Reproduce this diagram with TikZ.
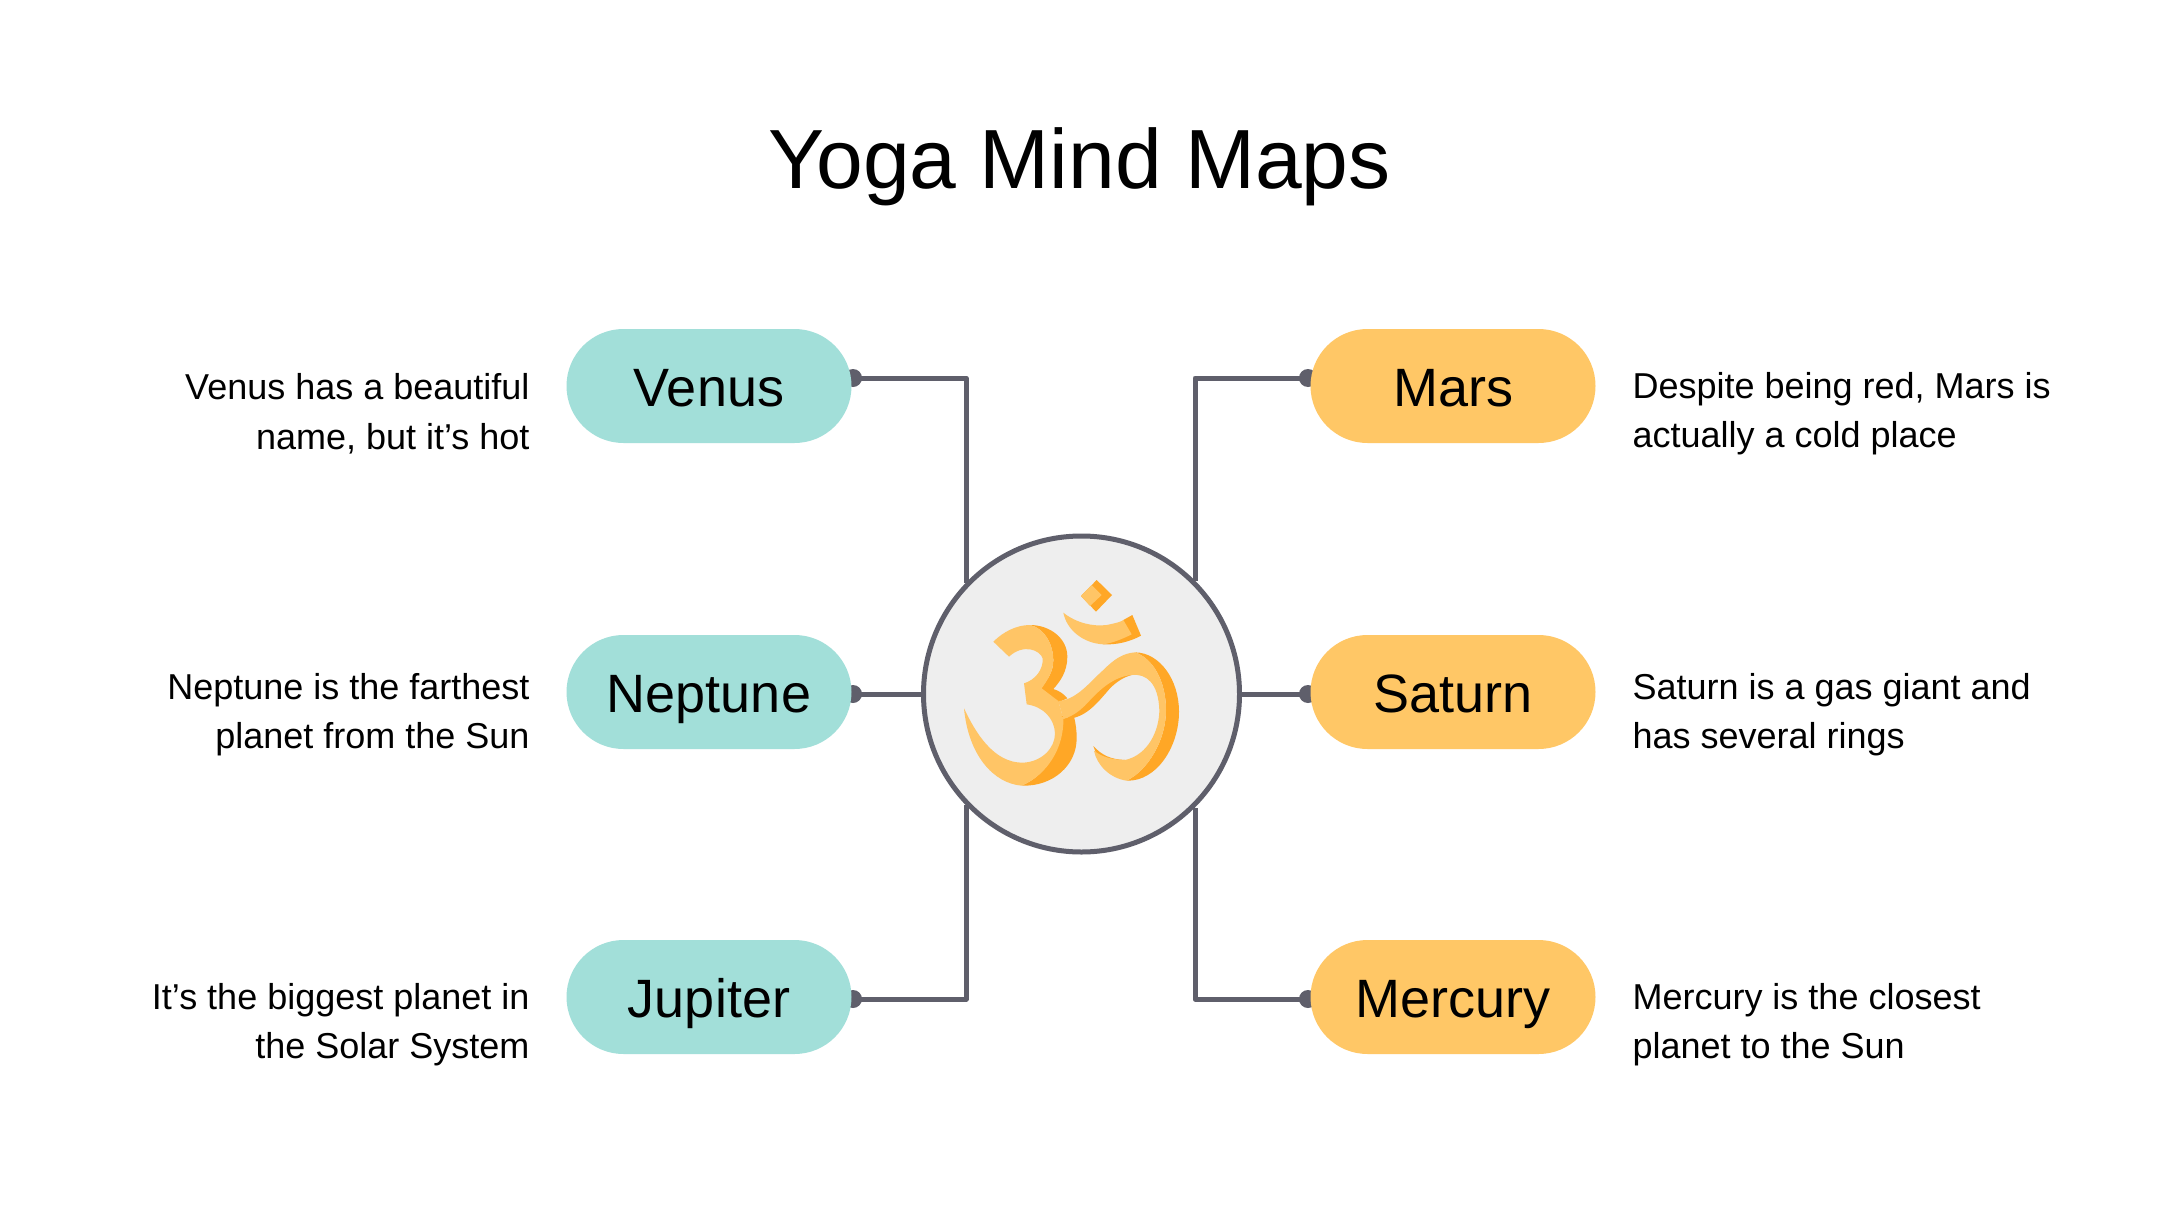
\documentclass[tikz,border=0pt]{standalone}
\usepackage{fontspec}
\setmainfont{Liberation Sans}
\usetikzlibrary{backgrounds}
\definecolor{linegrey}{HTML}{5F5F6B}
\definecolor{hubfill}{HTML}{EEEEEE}
\definecolor{tealpill}{HTML}{A2DFD9}
\definecolor{amberpill}{HTML}{FFC766}
\definecolor{omlight}{HTML}{FFC566}
\definecolor{omdark}{HTML}{FFA726}
\tikzset{
  pill/.style={rectangle,rounded corners=57pt,minimum width=285pt,minimum height=114pt,
    inner sep=0pt,outer sep=0pt,text=black,text height=40pt,text depth=0pt,
    font=\fontsize{54}{60}\selectfont},
  tealbox/.style={pill,fill=tealpill},
  amberbox/.style={pill,fill=amberpill},
  knob/.style={circle,fill=linegrey,minimum size=18pt,inner sep=0pt,outer sep=0pt},
  link/.style={draw=linegrey,line width=5pt,line join=round},
  note/.style={inner sep=0pt,outer sep=0pt,text=black,font=\fontsize{36}{49.6}\selectfont},
  noteL/.style={note,anchor=east,align=right},
  noteR/.style={note,anchor=west,align=left},
  hubdisc/.style={circle,draw=linegrey,fill=hubfill,line width=5pt,minimum size=316pt,inner sep=0pt,outer sep=2.5pt},
  omL/.style={fill=omlight,draw=none},
  omD/.style={fill=omdark,draw=none}
}
\begin{document}
\begin{tikzpicture}[x=1pt,y=-1pt]
\useasboundingbox (0,0) rectangle (2160,1215);

\node[anchor=base,inner sep=0pt,font=\fontsize{84}{90}\selectfont] (title) at (1079.5,188) {Yoga Mind Maps};

% central disc
\node[hubdisc] (hub) at (1081.5,694) {};

% connector end knobs, half tucked behind the pills
\node[knob] (kVenus) at (853,378) {};
\node[knob] (kNeptune) at (853,694) {};
\node[knob] (kJupiter) at (853,999) {};
\node[knob] (kMars) at (1308,378) {};
\node[knob] (kSaturn) at (1308,694) {};
\node[knob] (kMercury) at (1308,999) {};

% pills
\node[tealbox] (venus) at (709,386) {Venus};
\node[tealbox] (neptune) at (709,692) {Neptune};
\node[tealbox] (jupiter) at (709,997) {Jupiter};
\node[amberbox] (mars) at (1453,386) {Mars};
\node[amberbox] (saturn) at (1453,692) {Saturn};
\node[amberbox] (mercury) at (1453,997) {Mercury};

% page colour and connectors, beneath everything else
\begin{scope}[on background layer]
\fill[white] (0,0) rectangle (2160,1215);
\draw[link] (kVenus.center) -| (hub.136);
\draw[link] (kJupiter.center) -| (hub.224);
\draw[link] (kMars.center) -| (hub.45);
\draw[link] (kMercury.center) -| (hub.315);
\draw[link] (kNeptune.center) -- (hub.west);
\draw[link] (kSaturn.center) -- (hub.east);
\end{scope}

% descriptions
\node[noteL] (nVenus) at (529.5,413.5) {Venus has a beautiful\\name, but it’s hot};
\node[noteL] (nNeptune) at (529.5,714.5) {Neptune is the farthest\\planet from the Sun};
\node[noteL] (nJupiter) at (529.5,1024.5) {It’s the biggest planet in\\the Solar System};
\node[noteR] (nMars) at (1632.5,413.5) {Despite being red, Mars is\\actually a cold place};
\node[noteR] (nSaturn) at (1632.5,714.5) {Saturn is a gas giant and\\has several rings};
\node[noteR] (nMercury) at (1632.5,1024.5) {Mercury is the closest\\planet to the Sun};

% om emblem: upper dot and crescent
\begin{scope}[shift={(1050,570)},scale=1/3]
\fill[omD] (140,30) -- (186,75) -- (138,125) -- (93,78) -- cycle;
\fill[omL] (93,78) -- (125,45) -- (155,75) -- (120,108) -- cycle;
\fill[omD] (220,150) -- (247,135) -- (273,197) .. controls (240,215) and (200,225) .. (160,223) -- (200,190) -- cycle;
\fill[omL] (40,128) .. controls (80,160) and (130,170) .. (170,165)
  .. controls (195,160) and (215,155) .. (220,150) -- (245,193)
  .. controls (215,208) and (190,218) .. (160,223)
  .. controls (100,220) and (50,180) .. (40,128) -- cycle;
\end{scope}

% om emblem: left figure with tail
\begin{scope}[shift={(960,615)},scale=1/3]
\fill[omD] (210,30) .. controls (270,30) and (322,70) .. (322,125)
  .. controls (322,170) and (300,200) .. (280,222)
  .. controls (300,228) and (312,238) .. (322,250) -- (295,262) -- (240,225)
  .. controls (265,190) and (280,170) .. (280,135)
  .. controls (280,90) and (255,40) .. (210,30) -- cycle;
\fill[omD] (185,512) .. controls (280,515) and (350,450) .. (350,370)
  .. controls (350,345) and (347,325) .. (342,305) -- (300,312)
  .. controls (310,400) and (260,480) .. (185,512) -- cycle;
\fill[omL] (100,80) .. controls (130,50) and (170,30) .. (210,30)
  .. controls (255,40) and (280,90) .. (280,135)
  .. controls (280,170) and (262,195) .. (245,220) -- (295,258) -- (310,312)
  .. controls (312,400) and (260,480) .. (185,512)
  .. controls (100,505) and (25,420) .. (12,280)
  .. controls (45,350) and (100,445) .. (190,443)
  .. controls (245,440) and (285,400) .. (285,355)
  .. controls (283,310) and (250,275) .. (200,268)
  -- (192,205) .. controls (225,195) and (250,165) .. (248,130)
  .. controls (240,105) and (190,85) .. (147,125) -- cycle;
\end{scope}

% om emblem: wave and right loop
\begin{scope}[shift={(1060,640)},scale=1/3]
\fill[omD] (225,37) .. controls (300,38) and (357,120) .. (357,215)
  .. controls (357,320) and (290,425) .. (200,422)
  .. controls (265,390) and (318,300) .. (318,210)
  .. controls (318,125) and (280,55) .. (225,37) -- cycle;
\fill[omD] (215,105) .. controls (190,112) and (170,125) .. (150,145)
  .. controls (115,185) and (85,225) .. (35,235) -- (5,230) -- (90,150) -- (160,100) -- cycle;
\fill[omD] (100,318) .. controls (125,345) and (150,358) .. (195,360) -- (170,375) -- (110,345) -- cycle;
\fill[omL] (-5,183) .. controls (50,180) and (90,125) .. (130,90)
  .. controls (165,55) and (190,40) .. (225,37)
  .. controls (280,55) and (318,125) .. (318,210)
  .. controls (318,300) and (265,390) .. (200,422)
  .. controls (150,415) and (110,375) .. (102,332)
  .. controls (125,350) and (150,358) .. (195,360)
  .. controls (265,345) and (298,270) .. (298,210)
  .. controls (295,130) and (260,100) .. (215,105)
  .. controls (160,110) and (120,150) .. (95,175)
  .. controls (65,210) and (40,228) .. (10,237) -- cycle;
\end{scope}
\end{tikzpicture}
\end{document}
